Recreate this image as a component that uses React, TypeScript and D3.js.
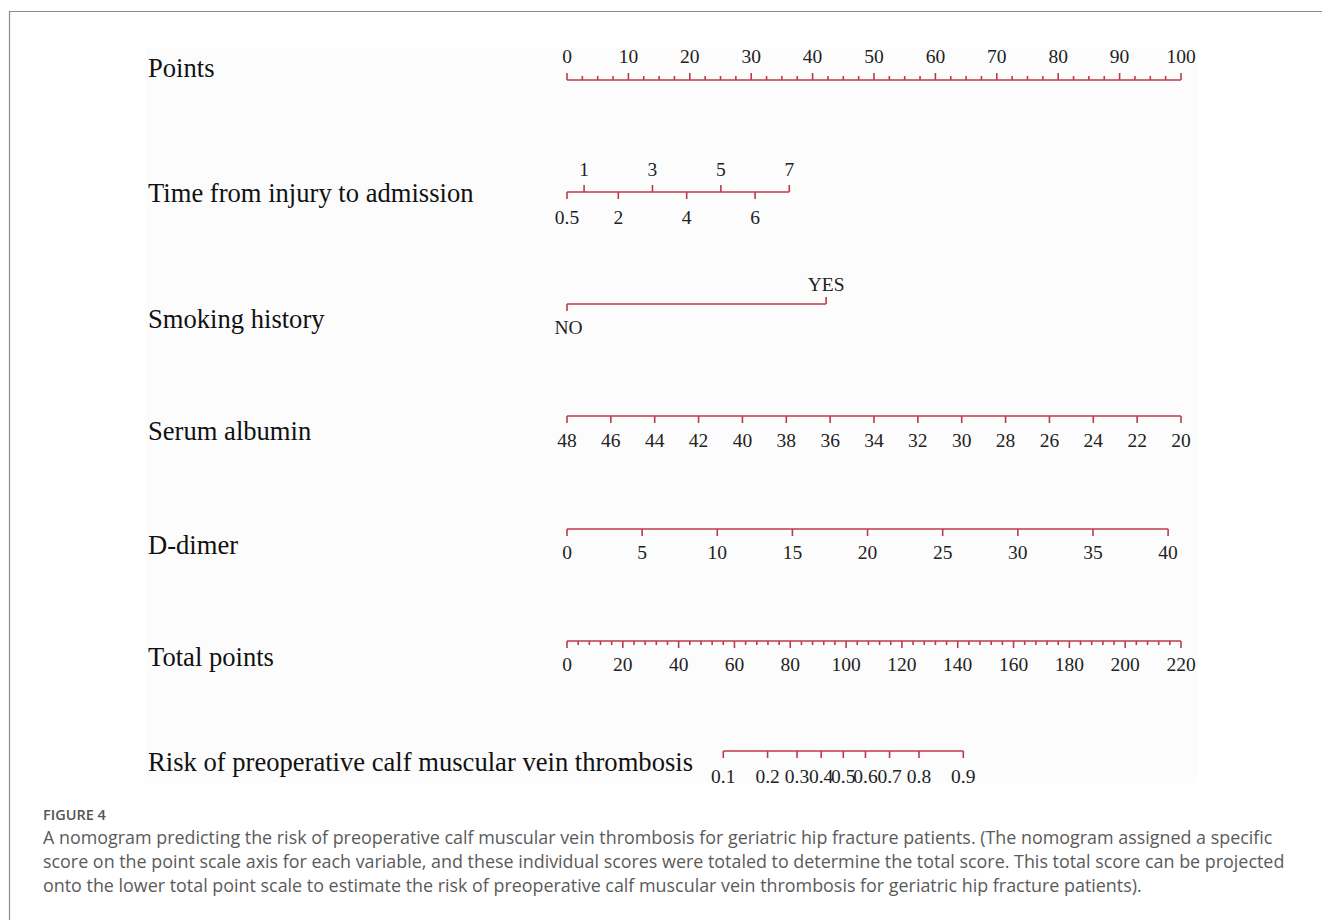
import React from "react";
import * as d3 from "d3";

// ---- nomogram data ----
const pointsTicks = [0, 10, 20, 30, 40, 50, 60, 70, 80, 90, 100];
const pointsMinorStep = 2.5;

const timeTicks = [0.5, 1, 2, 3, 4, 5, 6, 7];
const timeAbove = [1, 3, 5, 7];
const timeRange = [0.5, 7];
const timePoints = [0, 36.2];

const smokingLevels = ["NO", "YES"];
const smokingPoints = [0, 42.2];

const albuminTicks = [48, 46, 44, 42, 40, 38, 36, 34, 32, 30, 28, 26, 24, 22, 20];
const albuminRange = [48, 20];
const albuminPoints = [0, 100];

const dDimerTicks = [0, 5, 10, 15, 20, 25, 30, 35, 40];
const dDimerRange = [0, 40];
const dDimerPoints = [0, 97.9];

const totalTicks = [0, 20, 40, 60, 80, 100, 120, 140, 160, 180, 200, 220];
const totalMinorStep = 4;

const riskTicks = [0.1, 0.2, 0.3, 0.4, 0.5, 0.6, 0.7, 0.8, 0.9];
// linear predictor: logit(p) = slope * (total - centre)
const riskCentre = 99.0;
const riskSlope = 0.0511;

const captionTitle = "FIGURE 4";
const captionLines = [
  "A nomogram predicting the risk of preoperative calf muscular vein thrombosis for geriatric hip fracture patients. (The nomogram assigned a specific",
  "score on the point scale axis for each variable, and these individual scores were totaled to determine the total score. This total score can be projected",
  "onto the lower total point scale to estimate the risk of preoperative calf muscular vein thrombosis for geriatric hip fracture patients).",
];

const RED = "#bd3b49";
const SERIF = "'Liberation Serif', 'Times New Roman', serif";
const SANS = "'Open Sans', 'Noto Sans', sans-serif";

const x0 = 567;
const x1 = 1181;
const xPoints = d3.scaleLinear().domain([0, 100]).range([x0, x1]);
const xTotal = d3.scaleLinear().domain([0, 220]).range([x0, x1]);

const rows = {
  points: 80,
  time: 192,
  smoking: 304,
  albumin: 416,
  dDimer: 529,
  total: 641,
  risk: 751,
};

const labelSize = 26.6;
const tickSize = 19.5;
const majorLen = 7;
const minorLen = 4;

function Label({ y, text }: { y: number; text: string }) {
  return (
    <text x={148} y={y} fontFamily={SERIF} fontSize={labelSize} fill="#111">
      {text}
    </text>
  );
}

function TickText({ x, y, text }: { x: number; y: number; text: string }) {
  return (
    <text x={x} y={y} textAnchor="middle" fontFamily={SERIF} fontSize={tickSize} fill="#222">
      {text}
    </text>
  );
}

export default function App() {
  // variable scales map raw values to the points axis
  const timeScale = d3.scaleLinear().domain(timeRange).range(timePoints.map((p) => xPoints(p)));
  const albuminScale = d3.scaleLinear().domain(albuminRange).range(albuminPoints.map((p) => xPoints(p)));
  const dDimerScale = d3.scaleLinear().domain(dDimerRange).range(dDimerPoints.map((p) => xPoints(p)));
  const riskX = (p: number) => xTotal(riskCentre + Math.log(p / (1 - p)) / riskSlope);

  const pointsMinor = d3.range(0, 100 + 1e-9, pointsMinorStep).filter((v) => !pointsTicks.includes(v));
  const totalMinor = d3.range(0, 220 + 1e-9, totalMinorStep).filter((v) => !totalTicks.includes(v));

  return (
    <svg
      width={1322}
      height={920}
      style={{ position: "absolute", left: 0, top: 0, background: "#fff" }}
    >
      {/* figure frame */}
      <line x1={9} y1={11.5} x2={1322} y2={11.5} stroke="#8a8a8a" strokeWidth={1.2} />
      <line x1={9.5} y1={11} x2={9.5} y2={920} stroke="#8a8a8a" strokeWidth={1.2} />
      <rect x={145} y={48} width={1052} height={735} fill="#fcfcfc" />

      {/* Points */}
      <Label y={77} text="Points" />
      <g stroke={RED} strokeWidth={1.6} fill="none">
        <line x1={xPoints(0)} x2={xPoints(100)} y1={rows.points} y2={rows.points} />
        {pointsTicks.map((v) => (
          <line key={v} x1={xPoints(v)} x2={xPoints(v)} y1={rows.points} y2={rows.points - majorLen} />
        ))}
        {pointsMinor.map((v) => (
          <line key={v} x1={xPoints(v)} x2={xPoints(v)} y1={rows.points} y2={rows.points - minorLen} />
        ))}
      </g>
      {pointsTicks.map((v) => (
        <TickText key={v} x={xPoints(v)} y={63} text={String(v)} />
      ))}

      {/* Time from injury to admission */}
      <Label y={202} text="Time from injury to admission" />
      <g stroke={RED} strokeWidth={1.6}>
        <line x1={timeScale(timeRange[0])} x2={timeScale(timeRange[1])} y1={rows.time} y2={rows.time} />
        {timeTicks.map((v) => {
          const up = timeAbove.includes(v);
          return (
            <line
              key={v}
              x1={timeScale(v)}
              x2={timeScale(v)}
              y1={rows.time}
              y2={up ? rows.time - majorLen : rows.time + majorLen}
            />
          );
        })}
      </g>
      {timeTicks.map((v) => (
        <TickText key={v} x={timeScale(v)} y={timeAbove.includes(v) ? 176 : 224} text={String(v)} />
      ))}

      {/* Smoking history */}
      <Label y={328} text="Smoking history" />
      <g stroke={RED} strokeWidth={1.6}>
        <line x1={xPoints(smokingPoints[0])} x2={xPoints(smokingPoints[1])} y1={rows.smoking} y2={rows.smoking} />
        <line
          x1={xPoints(smokingPoints[0])}
          x2={xPoints(smokingPoints[0])}
          y1={rows.smoking}
          y2={rows.smoking + majorLen}
        />
        <line
          x1={xPoints(smokingPoints[1])}
          x2={xPoints(smokingPoints[1])}
          y1={rows.smoking}
          y2={rows.smoking - majorLen}
        />
      </g>
      <TickText x={xPoints(smokingPoints[0]) + 1.5} y={334} text={smokingLevels[0]} />
      <TickText x={xPoints(smokingPoints[1])} y={291} text={smokingLevels[1]} />

      {/* Serum albumin */}
      <Label y={440} text="Serum albumin" />
      <g stroke={RED} strokeWidth={1.6}>
        <line x1={albuminScale(albuminRange[0])} x2={albuminScale(albuminRange[1])} y1={rows.albumin} y2={rows.albumin} />
        {albuminTicks.map((v) => (
          <line key={v} x1={albuminScale(v)} x2={albuminScale(v)} y1={rows.albumin} y2={rows.albumin + majorLen} />
        ))}
      </g>
      {albuminTicks.map((v) => (
        <TickText key={v} x={albuminScale(v)} y={447} text={String(v)} />
      ))}

      {/* D-dimer */}
      <Label y={554} text="D-dimer" />
      <g stroke={RED} strokeWidth={1.6}>
        <line x1={dDimerScale(dDimerRange[0])} x2={dDimerScale(dDimerRange[1])} y1={rows.dDimer} y2={rows.dDimer} />
        {dDimerTicks.map((v) => (
          <line key={v} x1={dDimerScale(v)} x2={dDimerScale(v)} y1={rows.dDimer} y2={rows.dDimer + majorLen} />
        ))}
      </g>
      {dDimerTicks.map((v) => (
        <TickText key={v} x={dDimerScale(v)} y={559} text={String(v)} />
      ))}

      {/* Total points */}
      <Label y={666} text="Total points" />
      <g stroke={RED} strokeWidth={1.6}>
        <line x1={xTotal(0)} x2={xTotal(220)} y1={rows.total} y2={rows.total} />
        {totalTicks.map((v) => (
          <line key={v} x1={xTotal(v)} x2={xTotal(v)} y1={rows.total} y2={rows.total + majorLen} />
        ))}
        {totalMinor.map((v) => (
          <line key={v} x1={xTotal(v)} x2={xTotal(v)} y1={rows.total} y2={rows.total + minorLen} />
        ))}
      </g>
      {totalTicks.map((v) => (
        <TickText key={v} x={xTotal(v)} y={671} text={String(v)} />
      ))}

      {/* Risk */}
      <Label y={771} text="Risk of preoperative calf muscular vein thrombosis" />
      <g stroke={RED} strokeWidth={1.6}>
        <line
          x1={riskX(riskTicks[0])}
          x2={riskX(riskTicks[riskTicks.length - 1])}
          y1={rows.risk}
          y2={rows.risk}
        />
        {riskTicks.map((v) => (
          <line key={v} x1={riskX(v)} x2={riskX(v)} y1={rows.risk} y2={rows.risk + majorLen} />
        ))}
      </g>
      {riskTicks.map((v) => (
        <TickText key={v} x={riskX(v)} y={783} text={String(v)} />
      ))}

      {/* caption */}
      <text x={43} y={820} fontFamily={SANS} fontSize={14.5} fill="#555" fontWeight={600}>
        {captionTitle}
      </text>
      {captionLines.map((line, i) => (
        <text key={i} x={43} y={844 + i * 24} fontFamily={SANS} fontSize={17.9} fill="#5a5a5a">
          {line}
        </text>
      ))}
    </svg>
  );
}
